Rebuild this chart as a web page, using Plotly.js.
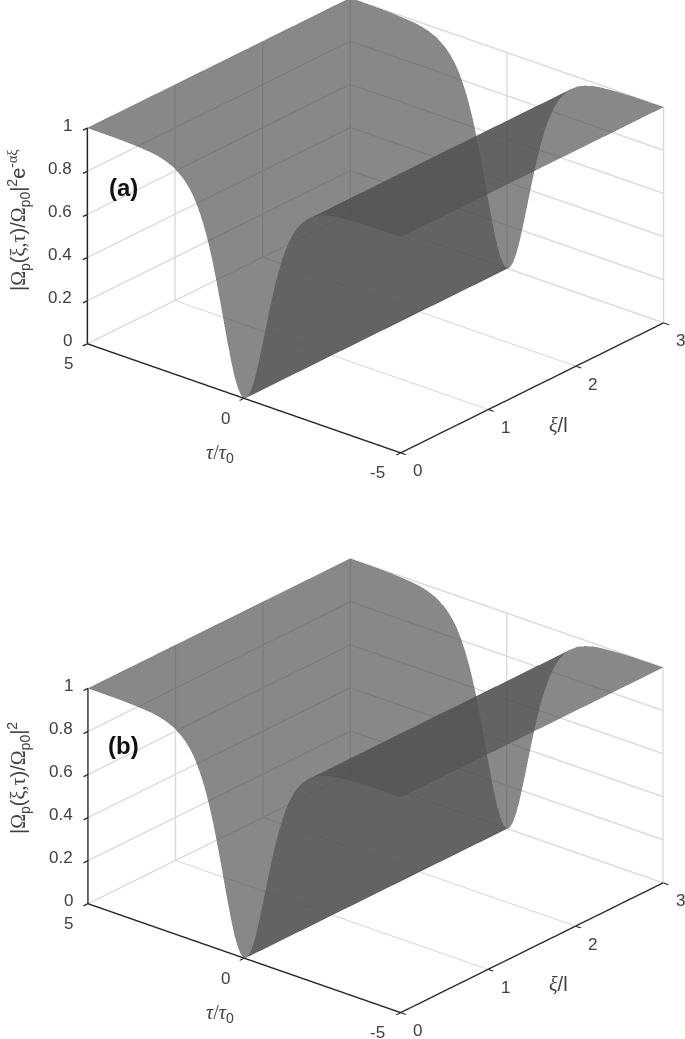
<!DOCTYPE html>
<html><head><meta charset="utf-8">
<script src="https://cdn.plot.ly/plotly-3.0.1.min.js"></script>
<style>html,body{margin:0;padding:0;background:#fff}</style></head>
<body><div id="g" style="width:685px;height:1039px"></div>
<script>
const xiValues = [0, 1, 2, 3];
const tauPositive = [5,4,3.5,3,2.75,2.5,2.25,2,1.9,1.8,1.7,1.6,1.5,1.4,1.3,1.2,1.1,1,0.9,0.8,0.7,0.6,0.5,0.4,0.3,0.2,0.1,0];
const tauNegative = [0,-0.1,-0.2,-0.3,-0.4,-0.5,-0.6,-0.7,-0.8,-0.9,-1,-1.1,-1.2,-1.3,-1.4,-1.5,-1.6,-1.7,-1.8,-1.9,-2,-2.25,-2.5,-2.75,-3,-3.5,-4,-5];
const intensityPositive = [1,0.999,0.996,0.99,0.984,0.973,0.957,0.929,0.914,0.896,0.875,0.85,0.819,0.784,0.743,0.695,0.641,0.58,0.513,0.441,0.365,0.288,0.214,0.144,0.085,0.039,0.01,0];
const intensityNegative = [0,0.01,0.039,0.085,0.144,0.214,0.288,0.365,0.441,0.513,0.58,0.641,0.695,0.743,0.784,0.819,0.85,0.875,0.896,0.914,0.929,0.957,0.973,0.984,0.99,0.996,0.999,1];
const xiTicks = [0,1,2,3], tauTicks = [-5,0,5], zTicks = [0,0.2,0.4,0.6,0.8,1];
const surfaceColor = '#525252', surfaceOpacity = 0.69;

function matrix(p){ return p.map(v => xiValues.map(() => v)); }
function surf(t, p, scene){ return {type:'surface', x:xiValues, y:t, z:matrix(p), scene,
  showscale:false, colorscale:[[0,surfaceColor],[1,surfaceColor]], opacity:surfaceOpacity, hoverinfo:'skip',
  lighting:{ambient:1,diffuse:0,specular:0,roughness:1,fresnel:0}}; }
const sans='Liberation Sans, Arial, sans-serif';
const tf = {family:sans, size:17, color:'#404040'};
function ax(range, ticks){ return {range, tickmode:'array', tickvals:ticks, showticklabels:false,
  title:{text:''}, showbackground:false, showgrid:true, gridcolor:'#dadada', gridwidth:3, zeroline:false,
  showline:true, linecolor:'#262626', linewidth:3, ticks:'outside', ticklen:7, tickcolor:'#262626', tickwidth:3, showspikes:false}; }
const tickNote=(x,y,z,t,xs,ys,anchor)=>({x,y,z,text:String(t),showarrow:false,font:tf,xanchor:anchor||'center',yanchor:'middle',xshift:xs,yshift:ys});
const notes=[].concat(
  zTicks.map(v=>tickNote(0,5,v,v,-13,3,'right')),
  tauTicks.map(v=>tickNote(0,v,0,v,v<0?-23:-19,-20)),
  xiTicks.map(v=>tickNote(v,-5,0,v,17,-18)));
const R=1.271, dir=[-0.697,-0.585,0.415];
function scene(dom, c){ return {domain:{x:[66/685,1],y:dom}, aspectmode:'manual', aspectratio:{x:1.573,y:1.573,z:0.912},
  xaxis:ax([0,3],xiTicks), yaxis:ax([-5,5],tauTicks), zaxis:ax([0,1],zTicks), annotations:notes,
  camera:{projection:{type:'orthographic'}, up:{x:0,y:0,z:1}, center:{x:0,y:0,z:c}, eye:{x:R*dir[0],y:R*dir[1],z:R*dir[2]+c}}}; }
const lbl=(t,x,y,o={})=>Object.assign({text:t,xref:'paper',yref:'paper',x:x/685,y:1-y/1039,showarrow:false,xanchor:'center',yanchor:'middle',
  font:{family:sans,size:20,color:'#404040'}},o);
const G=s=>'<span style="font-family:Liberation Serif">'+s+'</span>';
const bold={font:{family:sans,size:24,color:'#111'}};
const tauLabel=G('<i>τ</i>/<i>τ</i>')+'<sub>0</sub>', xiLabel=G('<i>ξ</i>')+'/l';
const zA='|'+G('Ω')+'<sub>p</sub>('+G('ξ,τ')+')/'+G('Ω')+'<sub>p0</sub>|<sup>2</sup>e<sup>-'+G('αξ')+'</sup>';
const zB='|'+G('Ω')+'<sub>p</sub>('+G('ξ,τ')+')/'+G('Ω')+'<sub>p0</sub>|<sup>2</sup>';
const layout={width:685,height:1039,margin:{l:0,r:0,t:0,b:0},paper_bgcolor:'#fff',showlegend:false,
 scene:scene([1-520/1039,1],-0.146), scene2:scene([0,1-520/1039],0.026),
 annotations:[
  lbl('<b>(a)</b>',123,187,bold), lbl('<b>(b)</b>',123,745,bold),
  lbl(zA,18,220,{textangle:-90}), lbl(zB,18,778,{textangle:-90}),
  lbl(tauLabel,220,453), lbl(tauLabel,220,1013),
  lbl(xiLabel,558,425), lbl(xiLabel,558,984)
 ]};
Plotly.newPlot('g',[
  surf(tauPositive,intensityPositive,'scene'),surf(tauNegative,intensityNegative,'scene'),
  surf(tauPositive,intensityPositive,'scene2'),surf(tauNegative,intensityNegative,'scene2')],layout,{displayModeBar:false});
</script></body></html>
